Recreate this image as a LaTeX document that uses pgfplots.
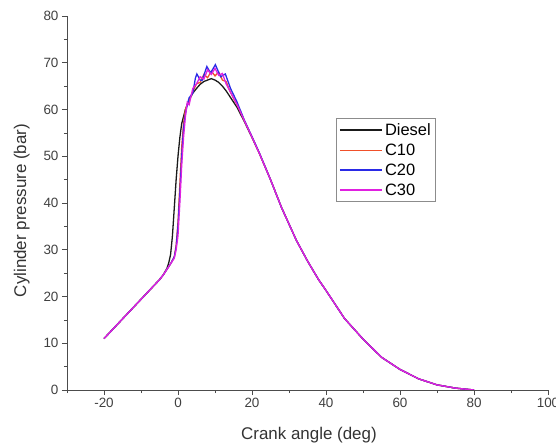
\documentclass[border=0pt]{standalone}
\usepackage{fontspec}
\setmainfont{Liberation Sans}
\usepackage{pgfplots}
\pgfplotsset{compat=1.18}
\definecolor{cDiesel}{HTML}{1A1A1A}
\definecolor{cC10}{HTML}{F0502A}
\definecolor{cC20}{HTML}{2A2AE6}
\definecolor{cC30}{HTML}{E020E0}
\begin{document}
\begin{tikzpicture}
\path[use as bounding box] (-67bp,-53bp) rectangle (489bp,390bp);
\begin{axis}[
  at={(0,0)}, anchor=south west,
  scale only axis, width=481bp, height=374bp,
  xmin=-30, xmax=100, ymin=0, ymax=80,
  axis x line*=bottom, axis y line*=left,
  axis line style={black!70, line width=0.8pt, -},
  xtick={-20,0,20,40,60,80,100}, minor xtick={-30,-10,10,30,50,70,90},
  ytick={0,10,...,80}, minor ytick={5,15,...,75},
  tick align=outside,
  major tick length=5bp, minor tick length=3bp,
  every tick/.style={black!70, line width=0.6pt},
  /pgf/number format/assume math mode=true,
  tick label style={font=\fontsize{13.5}{15}\selectfont, text=black!75},
  xlabel={Crank angle (deg)}, ylabel={Cylinder pressure (bar)},
  every axis x label/.style={at={(axis description cs:0.503,-0.120)}, anchor=center, font=\fontsize{17}{19}\selectfont, text=black!80},
  every axis y label/.style={at={(axis description cs:-0.094,0.48)}, rotate=90, anchor=center, font=\fontsize{17}{19}\selectfont, text=black!80},
  legend style={at={(rel axis cs:0.559,0.727)}, anchor=north west,
    draw=black!45, line width=0.5pt, font=\fontsize{16.5}{19}\selectfont,
    inner xsep=3bp, inner ysep=3bp, row sep=3bp},
  legend cell align=left,
  legend image post style={xscale=2.5, line width=1.4pt},
]
\addplot[cDiesel, line width=1.3pt] coordinates {
(-20,11) (-15,15.2) (-10,19.4) (-5,23.6) (-4,24.6) (-3,26) (-2.5,27.2) (-2,29) (-1.5,33) (-1,39) (-0.5,45) (0,50) (0.5,54) (1,57) (2,60) (3,62) (4,63.5) (5,64.5) (6,65.4) (7,66) (8,66.3) (9,66.6) (10,66.3) (11,65.8) (12,65) (13,64) (14,62.8) (15,61.6) (16,60.4) (18,57.3) (20,54) (22,50.6) (25,45) (28,39) (30,35.5) (32,32) (35,27.6) (38,23.6) (40,21.3) (45,15.3) (50,10.9) (55,7.0) (60,4.4) (65,2.4) (70,1.1) (75,0.4) (80,0)
};
\addlegendentry{Diesel}
\addplot[cC10, line width=1.3pt] coordinates {
(-20,11) (-15,15.2) (-10,19.4) (-5,23.6) (-4,24.6) (-3,25.8) (-2,27) (-1,28.5) (-0.5,31) (0,36) (0.5,44) (1,52) (1.5,57) (2,60) (3,62) (4,63.8) (5,65.5) (6,65.8) (7,67.5) (8,66.8) (9,68.2) (10,67.2) (11,68) (12,66.3) (13,66) (14,64) (15,62.4) (16,61) (18,57.5) (20,54.1) (22,50.6) (25,45) (28,39) (30,35.5) (32,32) (35,27.6) (38,23.6) (40,21.3) (45,15.3) (50,10.9) (55,7.0) (60,4.4) (65,2.4) (70,1.1) (75,0.4) (80,0)
};
\addlegendentry{C10}
\addplot[cC20, line width=1.3pt] coordinates {
(-20,11) (-15,15.2) (-10,19.4) (-5,23.6) (-4,24.6) (-3,25.8) (-2,27) (-1,28.5) (-0.5,30.5) (0,35) (0.5,42) (1,50) (1.5,56) (2,59) (2.5,61) (3,62.5) (4,63.5) (4.7,66.7) (5.1,67.6) (6,66.3) (6.5,66.2) (7.8,69.2) (8.8,67.8) (10.1,69.6) (11.5,67) (12.8,67.6) (14.2,64.5) (15.9,61.7) (18,57.6) (20,54.2) (22,50.7) (25,45) (28,39) (30,35.5) (32,32) (35,27.6) (38,23.6) (40,21.3) (45,15.3) (50,10.9) (55,7.0) (60,4.4) (65,2.4) (70,1.1) (75,0.4) (80,0)
};
\addlegendentry{C20}
\addplot[cC30, line width=1.3pt] coordinates {
(-20,11) (-15,15.2) (-10,19.4) (-5,23.6) (-4,24.6) (-3,25.8) (-2,27) (-1,28.2) (-0.5,30) (0,33) (0.5,40) (1,48) (1.5,54) (2,58.5) (2.5,61.5) (3,61) (4,64.5) (5,65.5) (6,67) (7,66.5) (8,68.5) (9,67.5) (10,68.8) (11,67.3) (12,67.7) (13,65.5) (14,64) (15,62.5) (16,61) (18,57.5) (20,54.1) (22,50.6) (25,45) (28,39) (30,35.5) (32,32) (35,27.6) (38,23.6) (40,21.3) (45,15.3) (50,10.9) (55,7.0) (60,4.4) (65,2.4) (70,1.1) (75,0.4) (80,0)
};
\addlegendentry{C30}
\end{axis}
\end{tikzpicture}
\end{document}
